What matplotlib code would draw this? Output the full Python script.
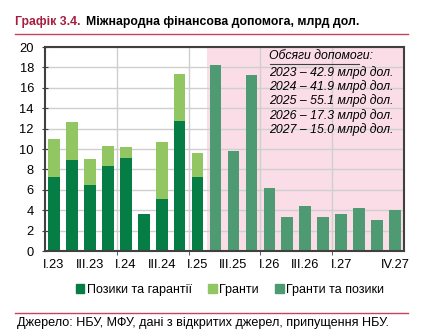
import matplotlib.pyplot as plt
import numpy as np
from matplotlib.patches import Patch
from matplotlib.lines import Line2D

plt.rcParams["font.family"] = ["Liberation Sans", "DejaVu Sans"]

quarters = ["I.23", "II.23", "III.23", "IV.23", "I.24", "II.24", "III.24", "IV.24",
            "I.25", "II.25", "III.25", "IV.25", "I.26", "II.26", "III.26", "IV.26",
            "I.27", "II.27", "III.27", "IV.27"]
# actual: loans and grants (to I.25)
loans = [7.25, 8.95, 6.5, 8.35, 9.15, 3.65, 5.05, 12.7, 7.3]
grants = [3.7, 3.7, 2.5, 1.9, 1.05, 0.0, 5.65, 4.65, 2.35]
# forecast: grants and loans together (II.25 onward)
forecast = [18.25, 9.8, 17.3, 6.15, 3.35, 4.4, 3.35, 3.65, 4.2, 3.0, 4.05]
tick_labels = {"I.23": "I.23", "III.23": "III.23", "I.24": "I.24", "III.24": "III.24",
               "I.25": "I.25", "III.25": "III.25", "I.26": "I.26", "III.26": "III.26",
               "I.27": "I.27", "IV.27": "IV.27"}
volumes = ["2023 – 42.9 млрд дол.", "2024 – 41.9 млрд дол.", "2025 – 55.1 млрд дол.",
           "2026 – 17.3 млрд дол.", "2027 – 15.0 млрд дол."]

c_loans = "#077d46"
c_grants = "#92c663"
c_fc = "#4e9a72"
c_pink = "#fbdde7"
c_red = "#a51e3d"
c_line = "#c8415f"

fig = plt.figure(figsize=(4.27, 3.36), dpi=100)
ax = fig.add_axes([45 / 427, 85 / 336, 359 / 427, 204 / 336])

x = np.arange(len(quarters))
n_act = len(loans)
w = 0.65
ax.axvspan(n_act - 0.5, len(quarters) - 0.5, color=c_pink, zorder=0, lw=0)
ax.bar(x[:n_act], loans, width=w, color=c_loans, zorder=2)
ax.bar(x[:n_act], grants, width=w, bottom=loans, color=c_grants, zorder=2)
ax.bar(x[n_act:], forecast, width=w, color=c_fc, zorder=2)

ax.set_xlim(-0.5, len(quarters) - 0.5)
ax.set_ylim(0, 20)
ax.set_yticks(range(0, 21, 2))
ax.grid(axis="y", color="#cfcfcf", lw=1, zorder=1)
for b in np.arange(3.5, len(quarters) - 1, 4):
    ax.axvline(b, color="#cfcfcf", lw=1, zorder=1)

pos = [i for i, q in enumerate(quarters) if q in tick_labels]
ax.set_xticks(pos)
ax.set_xticklabels([tick_labels[quarters[i]] for i in pos], fontsize=9.3)
ax.set_xticks(np.arange(3.5, len(quarters) - 1, 4), minor=True)
ax.tick_params(axis="x", which="major", length=0, pad=6)
ax.tick_params(axis="x", which="minor", length=3, direction="out", color="#404040")
ax.tick_params(axis="y", labelsize=9.3, length=4, direction="inout", color="#404040", pad=6)
for s in ax.spines.values():
    s.set_color("#404040")
    s.set_linewidth(1.5)

fs_note = 8.8
ax.text(0.625, 0.955, "Обсяги допомоги:", transform=ax.transAxes, fontsize=fs_note,
        style="italic", va="center", ha="left")
ax.add_line(Line2D([0.627, 0.875], [0.917, 0.917], transform=ax.transAxes,
                   color="#404040", lw=0.8))
for i, t in enumerate(volumes):
    ax.text(0.625, 0.877 - i * 0.0705, t, transform=ax.transAxes, fontsize=fs_note,
            style="italic", va="center", ha="left")

handles = [Patch(color=c_loans, label="Позики та гарантії"),
           Patch(color=c_grants, label="Гранти"),
           Patch(color=c_fc, label="Гранти та позики")]
fig.legend(handles=handles, loc="center", bbox_to_anchor=(230 / 427, 1 - 290 / 336), ncol=3,
           frameon=False, fontsize=9, handlelength=0.7, handleheight=0.7,
           handletextpad=0.2, columnspacing=1.3)

fig.text(15 / 427, 1 - 22 / 336, "Графік 3.4.", color=c_red, fontsize=8.8,
         fontweight="bold", va="center")
fig.text(86 / 427, 1 - 22 / 336, "Міжнародна фінансова допомога, млрд дол.", color="black",
         fontsize=8.8, fontweight="bold", va="center")
fig.add_artist(Line2D([15 / 427, 408 / 427], [1 - 34 / 336, 1 - 34 / 336], color=c_line, lw=1))
fig.add_artist(Line2D([15 / 427, 408 / 427], [1 - 313 / 336, 1 - 313 / 336], color=c_line, lw=1))
fig.text(17 / 427, 1 - 323 / 336, "Джерело: НБУ, МФУ, дані з відкритих джерел, припущення НБУ.",
         fontsize=9.1, va="center")

fig.savefig("out.png", dpi=100)
